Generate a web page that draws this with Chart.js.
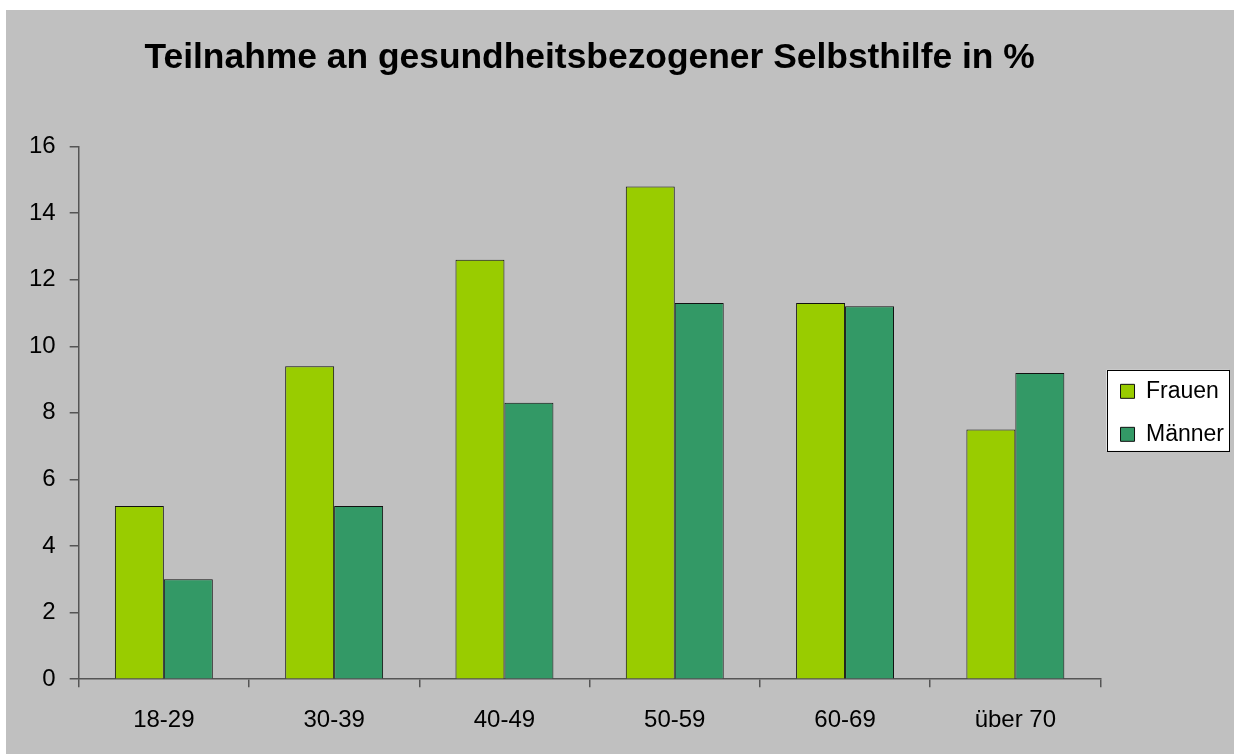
<!DOCTYPE html>
<html>
<head>
<meta charset="utf-8">
<script src="https://cdn.jsdelivr.net/npm/chart.js@4/dist/chart.umd.min.js"></script>
<style>
  html, body { margin: 0; padding: 0; background: #fff; }
  #wrap { position: absolute; left: 6px; top: 10px; width: 1228px; height: 744px; }
</style>
</head>
<body>
<div id="wrap"><canvas id="chart" width="1228" height="744"></canvas></div>
<script>
const categories = ['18-29', '30-39', '40-49', '50-59', '60-69', 'über 70'];
const frauen = [5.2, 9.4, 12.6, 14.8, 11.3, 7.5];
const maenner = [3.0, 5.2, 8.3, 11.3, 11.2, 9.2];
const yTicks = [0, 2, 4, 6, 8, 10, 12, 14, 16];

const font = { family: '"Liberation Sans", Arial, sans-serif', size: 24 };
const axisColor = '#555';

// grey background + white framed legend box
const backdrop = {
    id: 'backdrop',
    beforeDraw(chart) {
        const ctx = chart.ctx;
        ctx.save();
        ctx.fillStyle = '#c0c0c0';
        ctx.fillRect(0, 0, chart.width, chart.height);
        const hb = chart.legend.legendHitBoxes;
        if (hb && hb.length) {
            const first = hb[0], last = hb[hb.length - 1];
            const left = first.left - 14;
            const top = first.top - 10;
            const right = chart.width - 5;
            const bottom = last.top + last.height + 5;
            ctx.fillStyle = '#fff';
            ctx.fillRect(left, top, right - left, bottom - top);
            ctx.strokeStyle = '#000';
            ctx.lineWidth = 1;
            ctx.strokeRect(Math.round(left) + 0.5, Math.round(top) + 0.5, Math.round(right - left), Math.round(bottom - top));
        }
        ctx.restore();
    }
};

new Chart(document.getElementById('chart'), {
    type: 'bar',
    data: {
        labels: categories,
        datasets: [
            { label: 'Frauen', data: frauen, backgroundColor: '#99cc00', borderColor: '#111', borderWidth: 1 },
            { label: 'Männer', data: maenner, backgroundColor: '#339966', borderColor: '#111', borderWidth: 1 }
        ]
    },
    options: {
        responsive: false,
        animation: false,
        layout: { padding: { left: 9, right: 0, top: 0, bottom: 0 } },
        datasets: { bar: { categoryPercentage: 0.575, barPercentage: 1 } },
        plugins: {
            title: {
                display: true,
                text: 'Teilnahme an gesundheitsbezogener Selbsthilfe in %',
                color: '#000',
                fullSize: false,
                font: { family: font.family, size: 35.4, weight: 'bold' },
                padding: { top: 27, bottom: 67 }
            },
            legend: {
                position: 'right',
                fullSize: false,
                labels: { boxWidth: 14, boxHeight: 14, padding: 20, color: '#000', font: { family: font.family, size: 23 } }
            },
            tooltip: { enabled: false }
        },
        scales: {
            x: {
                grid: { offset: true, drawOnChartArea: false, tickLength: 8, color: axisColor, lineWidth: 1.5 },
                border: { color: axisColor, width: 1.5 },
                ticks: { color: '#000', font: font, padding: 19 }
            },
            y: {
                min: yTicks[0],
                max: yTicks[yTicks.length - 1],
                afterBuildTicks(axis) { axis.ticks = yTicks.map(v => ({ value: v })); },
                grid: { drawOnChartArea: false, tickLength: 9, color: axisColor, lineWidth: 1.5 },
                border: { color: axisColor, width: 1.5 },
                ticks: { color: '#000', font: font, padding: 14 }
            }
        }
    },
    plugins: [backdrop]
});
</script>
</body>
</html>
